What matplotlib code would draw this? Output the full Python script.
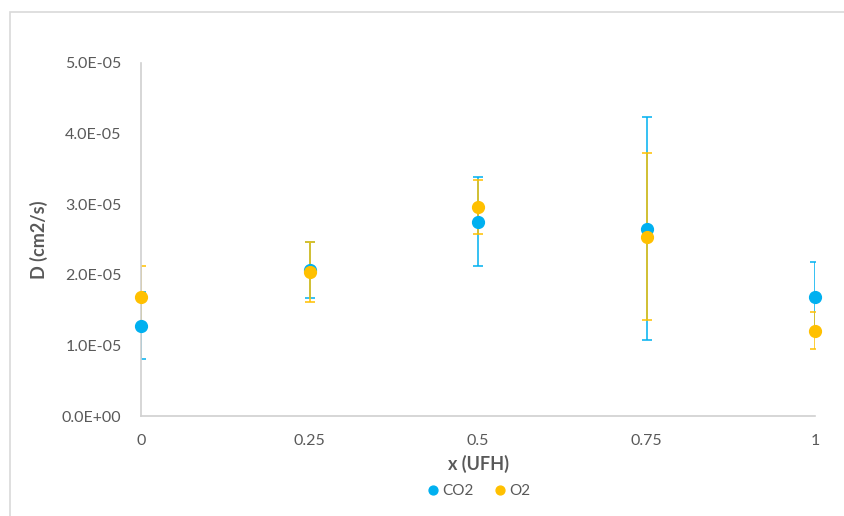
import matplotlib.pyplot as plt
from matplotlib.patches import Rectangle

plt.rcParams['font.family'] = ['Lato', 'DejaVu Sans']

x_vals = [0, 0.25, 0.5, 0.75, 1]
x_labels = ['0', '0.25', '0.5', '0.75', '1']
co2 = [1.28e-5, 2.07e-5, 2.75e-5, 2.65e-5, 1.69e-5]
co2_err = [0.47e-5, 0.40e-5, 0.63e-5, 1.58e-5, 0.49e-5]
o2 = [1.69e-5, 2.04e-5, 2.96e-5, 2.54e-5, 1.21e-5]
o2_err = [0.43e-5, 0.42e-5, 0.38e-5, 1.18e-5, 0.26e-5]

CO2_COLOR = '#00B0F0'
O2_COLOR = '#FFC000'
TEXT = '#595959'

fig = plt.figure(figsize=(8.44, 5.16), dpi=100)
fig.patches.append(Rectangle((10 / 844, -0.1), 1.2, 1.1 - 12 / 516,
                             transform=fig.transFigure, fill=False,
                             edgecolor='#D9D9D9', linewidth=1.2))
ax = fig.add_axes([141 / 844, 100 / 516, 674 / 844, 353 / 516])

for vals, errs, col, name in [(co2, co2_err, CO2_COLOR, 'CO2'), (o2, o2_err, O2_COLOR, 'O2')]:
    ax.errorbar(x_vals, vals, yerr=errs, fmt='none', ecolor=col, elinewidth=1.3,
                capsize=3.3, capthick=1.3, alpha=0.85)
    ax.plot(x_vals, vals, 'o', color=col, markersize=8.5, label=name, clip_on=False, zorder=5)

ax.set_xlim(0, 1)
ax.set_ylim(0, 5e-5)
ax.set_xticks(x_vals)
ax.set_xticklabels(x_labels)
ax.set_yticks([i * 1e-5 for i in range(6)])
ax.set_yticklabels(['%.1E' % (i * 1e-5) for i in range(6)])
ax.tick_params(length=0, labelsize=11.5, labelcolor=TEXT)
ax.tick_params(axis='y', pad=14)
ax.tick_params(axis='x', pad=13)
for s in ['top', 'right']:
    ax.spines[s].set_visible(False)
for s in ['left', 'bottom']:
    ax.spines[s].set_color('#D0D0D0')
    ax.spines[s].set_linewidth(1.2)

ax.set_xlabel('x (UFH)', fontsize=13, fontweight='bold', color=TEXT, labelpad=5)
ax.set_ylabel('D (cm2/s)', fontsize=13, fontweight='bold', color=TEXT, labelpad=10)

fig.legend(loc='center', bbox_to_anchor=(478 / 844, 1 - 491 / 516), ncol=2, frameon=False,
           fontsize=11, labelcolor=TEXT, handletextpad=0.1, columnspacing=1.2,
           markerscale=0.75, handlelength=1.0)

fig.savefig('out.png', dpi=100)
